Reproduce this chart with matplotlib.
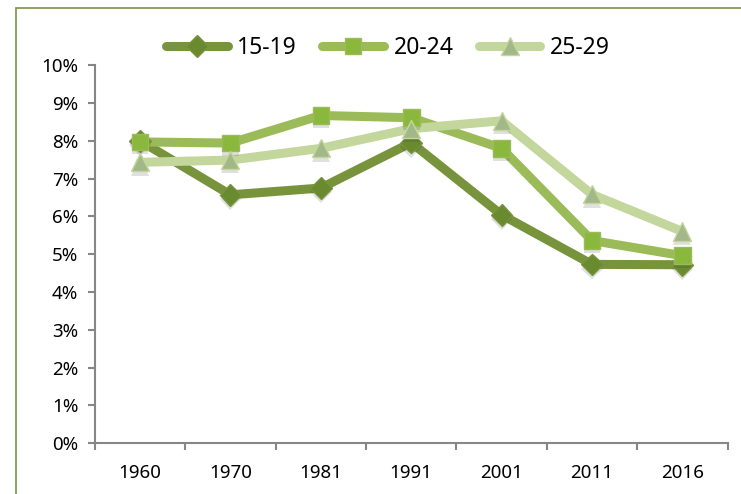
import matplotlib.pyplot as plt
import matplotlib.patheffects as pe
from matplotlib.patches import Rectangle
from matplotlib.ticker import FuncFormatter, MultipleLocator

plt.rcParams['font.family'] = ['Noto Sans', 'DejaVu Sans']

years = ['1960', '1970', '1981', '1991', '2001', '2011', '2016']
age_15_19 = [8.00, 6.57, 6.75, 7.95, 6.04, 4.73, 4.72]
age_20_24 = [7.97, 7.94, 8.67, 8.61, 7.80, 5.36, 4.96]
age_25_29 = [7.43, 7.49, 7.80, 8.32, 8.53, 6.58, 5.60]

series = [
    ('15-19', age_15_19, '#77933C', '#6A8A30', 'D', 11),
    ('20-24', age_20_24, '#9BBB59', '#8AB83C', 's', 12),
    ('25-29', age_25_29, '#C3D69B', '#A3B888', '^', 13),
]

fig = plt.figure(figsize=(7.41, 4.94), dpi=100)
ax = fig.add_axes([0.128, 0.103, 0.854, 0.765])

# green outer frame, cut off on the right and bottom
fig.patches.append(Rectangle((16 / 741, -0.1), 1.2, 1 - 8 / 494 + 0.1,
                             transform=fig.transFigure, fill=False,
                             edgecolor='#77933C', linewidth=1.2))

x = range(len(years))
shadow = [pe.SimplePatchShadow(offset=(0, -3), alpha=0.15, shadow_rgbFace='#333333'),
          pe.Normal()]
handles = []
for label, vals, lc, mc, mk, ms in series:
    ax.plot(x, vals, color=lc, linewidth=6.5, solid_capstyle='round',
            solid_joinstyle='round', zorder=2)
    ax.plot(x, vals, linestyle='none', marker=mk, markersize=ms,
            markerfacecolor=mc, markeredgecolor=lc, markeredgewidth=1,
            path_effects=shadow, zorder=3)
    h, = ax.plot([], [], color=lc, linewidth=6.5, solid_capstyle='round',
                 marker=mk, markersize=ms, markerfacecolor=mc,
                 markeredgecolor=lc, label=label)
    handles.append(h)

ax.set_xlim(-0.5, len(years) - 0.5)
ax.set_ylim(0, 10)
ax.yaxis.set_major_locator(MultipleLocator(1))
ax.yaxis.set_major_formatter(FuncFormatter(lambda v, p: f'{v:.0f}%'))
ax.set_xticks([i - 0.5 for i in range(len(years) + 1)])
ax.set_xticklabels([])
ax.set_xticks(list(x), minor=True)
ax.set_xticklabels(years, minor=True)

for side in ['top', 'right']:
    ax.spines[side].set_visible(False)
for side in ['left', 'bottom']:
    ax.spines[side].set_color('#868686')
    ax.spines[side].set_linewidth(1.5)

ax.tick_params(axis='y', length=5, width=1.5, color='#868686', pad=7,
               labelsize=13.5, labelcolor='black')
ax.tick_params(axis='x', which='major', length=5, width=1.5, color='#868686')
ax.tick_params(axis='x', which='minor', length=0, pad=15, labelsize=13.5,
               labelcolor='black')

fig.legend(handles=handles, loc='center', bbox_to_anchor=(388 / 741, 1 - 48 / 494),
           ncol=3, frameon=False, fontsize=16.5, handlelength=2.7,
           handletextpad=0.4, columnspacing=1.1)

fig.savefig('out.png', dpi=100)
